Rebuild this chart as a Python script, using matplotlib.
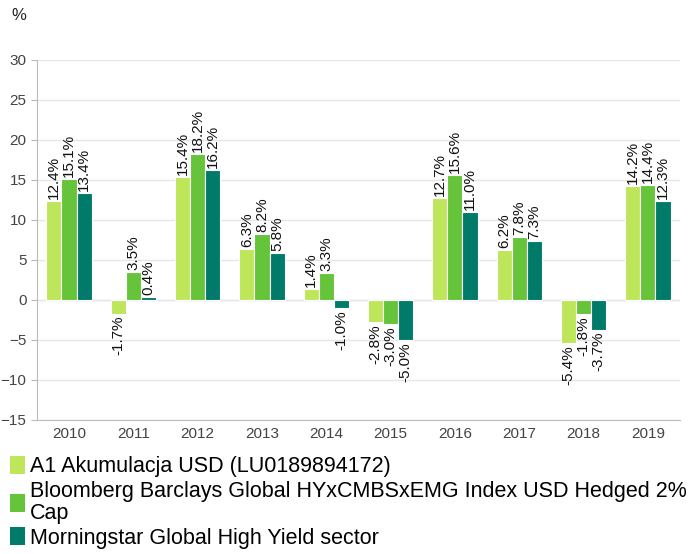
import numpy as np
import matplotlib
matplotlib.use("Agg")
import matplotlib.pyplot as plt
from matplotlib.patches import Patch

plt.rcParams['font.family'] = ['Liberation Sans', 'DejaVu Sans']

years = ['2010', '2011', '2012', '2013', '2014', '2015', '2016', '2017', '2018', '2019']
fund = [12.4, -1.7, 15.4, 6.3, 1.4, -2.8, 12.7, 6.2, -5.4, 14.2]
index_bb = [15.1, 3.5, 18.2, 8.2, 3.3, -3.0, 15.6, 7.8, -1.8, 14.4]
sector = [13.4, 0.4, 16.2, 5.8, -1.0, -5.0, 11.0, 7.3, -3.7, 12.3]
names = ['A1 Akumulacja USD (LU0189894172)',
         'Bloomberg Barclays Global HYxCMBSxEMG Index USD Hedged 2%\nCap',
         'Morningstar Global High Yield sector']
colors = ['#bde65a', '#66c43a', '#007b6a']

fig = plt.figure(figsize=(6.96, 5.54), dpi=100)
ax = fig.add_axes([0.053, 0.242, 0.924, 0.650])

x = np.arange(len(years))
w = 0.235
for i, (vals, c) in enumerate(zip([fund, index_bb, sector], colors)):
    pos = x + (i - 1) * w
    ax.bar(pos, vals, w, color=c, edgecolor='white', linewidth=0.8, zorder=3)
    for px, v in zip(pos, vals):
        ax.annotate(f"{v:.1f}%", (px, v), xytext=(0, 1.5 if v >= 0 else -1.5),
                    textcoords='offset points', rotation=90, ha='center',
                    va='bottom' if v >= 0 else 'top', fontsize=11, color='#111111')

ax.set_xlim(-0.5, 9.5)
ax.set_ylim(-15, 30)
ax.set_yticks(range(-15, 31, 5))
ax.set_xticks(x)
ax.set_xticklabels(years)
ax.yaxis.grid(True, color='#e6e6e6', linewidth=1, zorder=0)
ax.axhline(0, color='#e6e6e6', linewidth=1, zorder=1)
for s in ['top', 'right']:
    ax.spines[s].set_visible(False)
for s in ['left', 'bottom']:
    ax.spines[s].set_color('#bbbbbb')
ax.tick_params(axis='y', colors='#bbbbbb', labelcolor='#444444', labelsize=11, length=4)
ax.tick_params(axis='x', length=0, labelcolor='#444444', labelsize=11, pad=5)

fig.text(0.016, 0.972, '%', fontsize=12, color='#222222', va='center')

handles = [Patch(facecolor=c, edgecolor='none') for c in colors]
leg = fig.legend(handles, names, loc='upper left', bbox_to_anchor=(0.014, 0.177),
                 frameon=False, fontsize=15.5, handlelength=0.7, handleheight=0.9,
                 handletextpad=0.25, labelspacing=0.15, borderaxespad=0, borderpad=0)
for t in leg.get_texts():
    t.set_linespacing(1.1)

fig.savefig('out.png', dpi=100)
